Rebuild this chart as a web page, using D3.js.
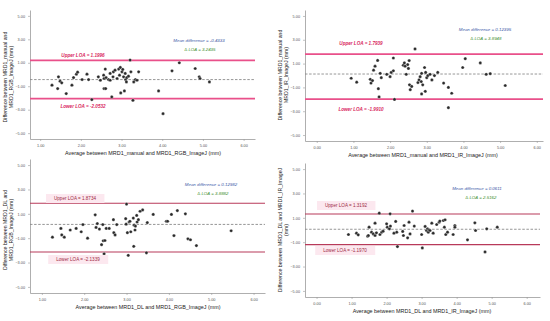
<!DOCTYPE html>
<html>
<head>
<meta charset="utf-8">
<script src="https://cdn.jsdelivr.net/npm/d3@7"></script>
<style>
body{margin:0;background:#fff}
text{font-family:"Liberation Sans",Arial,sans-serif}
</style>
</head>
<body>
<svg width="550" height="321"></svg>
<script>
// panel 1: manual vs RGB
var p1Avg=[1.29,1.43,1.45,1.49,1.53,1.64,1.78,1.82,1.89,1.92,2.03,2.15,2.19,2.27,2.43,2.48,2.56,2.57,2.60,2.62,2.57,2.61,2.68,2.72,2.72,2.76,2.79,2.80,2.84,2.89,2.93,2.95,2.97,2.98,3.01,3.03,3.05,3.07,3.09,3.10,3.12,3.13,3.17,3.21,3.23,3.28,3.30,3.34,3.38,3.42,3.91,4.02,4.24,4.42,4.81,4.91,4.93,5.16];
var p1Diff=[-0.91,-1.20,-0.20,-0.57,-0.71,-1.63,-0.91,-0.26,0.03,0.20,-0.43,0.03,-0.43,-2.14,-0.20,-0.49,-0.06,-0.34,0.46,-0.26,-1.20,-1.20,-0.43,0.09,-0.49,-1.91,-0.20,0.23,0.37,-0.34,0.46,-0.06,0.60,-1.57,0.23,0.43,-0.20,-1.40,0.09,-0.43,-0.63,-0.26,-0.14,1.23,0.23,-2.20,-0.63,-0.43,-0.49,0.23,-1.40,-3.34,0.31,1.00,0.51,-0.20,-0.34,-0.63];
// panel 2: manual vs IR
var p2Avg=[0.94,1.09,1.46,1.48,1.52,1.55,1.59,1.66,1.68,1.70,1.73,1.76,1.91,2.00,2.03,2.09,2.09,2.12,2.36,2.39,2.41,2.44,2.48,2.50,2.52,2.53,2.55,2.59,2.68,2.76,2.79,2.82,2.85,2.86,2.86,2.89,2.94,2.96,2.97,3.00,3.03,3.09,3.14,3.21,3.30,3.46,3.59,3.59,3.68,3.98,4.05,4.46,4.62,4.73,5.14];
var p2Diff=[-0.23,-0.56,-0.32,-0.64,-0.43,0.45,0.78,1.27,-1.11,-1.80,0.18,-0.18,0.10,-0.10,0.26,1.47,0.40,-2.01,0.86,1.06,0.78,0.10,0.92,0.59,1.25,-0.78,-1.19,-0.92,2.23,-0.59,-0.37,-0.10,-0.51,-1.55,0.18,-0.78,0.67,-1.33,0.26,-0.18,-0.01,0.10,-0.37,-0.01,0.26,-0.64,-1.00,-2.70,-1.49,0.67,1.41,1.06,0.10,0.15,-0.84];
// panel 3: DL vs RGB
var p3Avg=[1.25,1.45,1.47,1.53,1.67,1.81,1.93,1.97,2.08,2.26,2.28,2.31,2.36,2.41,2.44,2.45,2.47,2.49,2.52,2.59,2.69,2.70,2.73,2.77,2.98,2.99,3.00,3.02,3.04,3.06,3.08,3.10,3.16,3.17,3.18,3.20,3.21,3.24,3.25,3.28,3.32,3.38,3.47,3.49,3.63,3.94,3.97,4.06,4.12,4.20,4.39,4.45,4.51,4.65,5.47];
var p3Diff=[-0.92,-0.20,-0.73,-0.92,-0.33,-0.20,-0.47,0.12,-1.00,0.92,-0.12,0.20,-0.25,-1.53,0.12,-1.21,-2.28,-1.19,-0.20,-0.20,0.52,-0.55,-0.73,0.12,0.60,0.15,1.80,-0.55,-2.41,0.33,0.39,-0.47,0.65,-1.67,0.07,-0.33,-0.01,0.87,0.33,0.52,1.21,1.32,-2.20,0.28,0.95,0.39,0.39,0.95,-0.79,1.27,1.00,-1.05,-1.13,-1.61,-0.39];
// panel 4: DL vs IR
var p4Avg=[0.91,1.14,1.19,1.46,1.48,1.50,1.57,1.62,1.67,1.67,1.71,1.79,1.81,1.86,1.90,2.00,2.02,2.08,2.10,2.11,2.21,2.26,2.29,2.31,2.46,2.48,2.50,2.60,2.64,2.67,2.74,2.79,3.00,3.02,3.10,3.14,3.17,3.19,3.21,3.24,3.29,3.33,3.43,3.50,3.52,3.62,3.65,3.67,3.69,3.74,3.90,3.95,3.95,4.31,4.52,4.54,4.81,4.86,5.16];
var p4Diff=[-0.37,-0.26,-0.40,-0.51,-0.45,0.23,-0.18,-0.32,0.56,-0.45,-0.23,1.38,-0.37,-0.18,-0.10,0.51,0.23,0.10,1.33,0.32,-0.26,0.70,-0.18,-1.36,-0.12,-0.45,0.37,-0.64,0.64,-0.32,1.55,0.32,-0.37,-1.47,0.29,-0.04,0.10,-0.18,0.01,-0.04,0.56,-0.26,0.45,0.64,0.73,0.78,0.23,0.84,-0.37,-0.18,-0.37,0.37,0.23,-0.81,0.59,-0.04,-1.80,0.10,0.23];

var meanDiff=[-0.4333,0.12395,0.12982,0.0611];
var upperLOA=[1.1996,1.7939,1.8734,1.3192];
var lowerLOA=[-2.0532,-1.9910,-2.1339,-1.1970];
var meanText=["-0.4333","0.12395","0.12982","0.0611"];
var deltaText=["3.2435","3.8948","3.8882","2.5162"];
var upperText=["1.1996","1.7939","1.8734","1.3192"];
var lowerText=["-2.0532","-1.9910","-2.1339","-1.1970"];

var xTicks=[[1,2,3,4,5,6],[0,1,2,3,4,5,6],[1,2,3,4,5,6],[0,1,2,3,4,5,6]];
var yTicks=[5,3,1,-1,-3,-5];
var xTitles=["Average between MRD1_manual and MRD1_RGB_ImageJ (mm)",
  "Average between MRD1_manual and MRD1_IR_ImageJ (mm)",
  "Average between MRD1_DL and MRD1_RGB_ImageJ (mm)",
  "Average between MRD1_DL and MRD1_IR_ImageJ (mm)"];
var yTitles=[["Difference between MRD1_manual and","MRD1_RGB_ImageJ (mm)"],
  ["Difference between MRD1_manual and","MRD1_IR_ImageJ (mm)"],
  ["Difference between MRD1_DL and","MRD1_RGB_ImageJ (mm)"],
  ["Difference between MRD1_DL and MRD1_IR_ImageJ","(mm)"]];

var avgs=[p1Avg,p2Avg,p3Avg,p4Avg], diffs=[p1Diff,p2Diff,p3Diff,p4Diff];

// layout of each panel (pixels)
var panels=[
  {l:30,r:255,t:10,b:139,xd:[0.75,6.28],style:1,up:[83,57],lo:[83,107.5],mn:[199,41.5],dl:[200,50.5],xt:[143,154.5],yt:[77,7]},
  {l:305,r:543,t:10,b:141,xd:[-0.32,6.17],style:1,up:[361,44.5],lo:[361,110.5],mn:[485,31],dl:[486,39.5],xt:[423,156.5],yt:[75,282]},
  {l:30,r:265,t:159,b:293,xd:[0.72,6.27],style:2,up:[75,200],lo:[78,261],mn:[211,185.5],dl:[213,194.5],xt:[148,308.5],yt:[230,7]},
  {l:305,r:540,t:163,b:297,xd:[-0.33,6.38],style:2,up:[346,207],lo:[345,252],mn:[477,189.5],dl:[481,198.5],xt:[422,312.5],yt:[230,282]}
];

var svg=d3.select("svg");

panels.forEach(function(p,i){
  var x=d3.scaleLinear().domain(p.xd).range([p.l,p.r]);
  var y=d3.scaleLinear().domain([-5.5,5.5]).range([p.b,p.t]);
  var g=svg.append("g");

  var xa=g.append("g").attr("transform","translate(0,"+p.b+")")
    .call(d3.axisBottom(x).tickValues(xTicks[i]).tickFormat(d3.format(".2f")).tickSize(2).tickSizeOuter(0));
  var ya=g.append("g").attr("transform","translate("+p.l+",0)")
    .call(d3.axisLeft(y).tickValues(yTicks).tickFormat(d3.format(".2f")).tickSize(2).tickSizeOuter(0));
  [xa,ya].forEach(function(a){
    a.select(".domain").attr("stroke","#9a9a9a").attr("stroke-width",0.8);
    a.selectAll(".tick line").attr("stroke","#9a9a9a").attr("stroke-width",0.6);
    a.selectAll(".tick text").attr("font-size",3.8).attr("fill","#555");
  });
  xa.selectAll(".tick text").attr("dy","0.9em");

  // mean line
  g.append("line").attr("x1",p.l).attr("x2",p.r)
    .attr("y1",y(meanDiff[i])).attr("y2",y(meanDiff[i]))
    .attr("stroke","#8a8a8a").attr("stroke-width",0.9).attr("stroke-dasharray","2.5,1.6");

  // LOA lines
  var loaCol=p.style==1?"#e9508a":"#b83a5a";
  var loaW=p.style==1?1.8:1.1;
  [upperLOA[i],lowerLOA[i]].forEach(function(v){
    g.append("line").attr("x1",p.l).attr("x2",p.r).attr("y1",y(v)).attr("y2",y(v))
      .attr("stroke",loaCol).attr("stroke-width",loaW);
  });

  // points
  g.selectAll("circle").data(avgs[i]).enter().append("circle")
    .attr("cx",function(d){return x(d);})
    .attr("cy",function(d,k){return y(diffs[i][k]);})
    .attr("r",1.6).attr("fill","#2a2a2a").attr("stroke","#fff").attr("stroke-width",0.3);

  // LOA labels
  var labs=[[p.up,"Upper LOA = "+upperText[i]],[p.lo,"Lower LOA = "+lowerText[i]]];
  labs.forEach(function(L){
    var t=g.append("text").attr("x",L[0][0]).attr("y",L[0][1]).attr("text-anchor","middle")
      .attr("font-size",4.6).text(L[1]);
    if(p.style==1){
      t.attr("fill","#d81f5e").attr("font-weight","bold").attr("font-style","italic");
    }else{
      t.attr("fill","#9c2a44");
      var bb=t.node().getBBox();
      g.insert("rect",function(){return t.node();})
        .attr("x",bb.x-8).attr("y",bb.y-2).attr("width",bb.width+16).attr("height",bb.height+4)
        .attr("fill","#fce8ef");
    }
  });

  g.append("text").attr("x",p.mn[0]).attr("y",p.mn[1]).attr("text-anchor","middle")
    .attr("font-size",4.4).attr("font-style","italic").attr("fill","#3d5aa8")
    .text("Mean difference = "+meanText[i]);
  g.append("text").attr("x",p.dl[0]).attr("y",p.dl[1]).attr("text-anchor","middle")
    .attr("font-size",4.4).attr("font-style","italic").attr("fill","#3f8f2f")
    .text("\u2206 LOA = "+deltaText[i]);

  // axis titles
  g.append("text").attr("x",p.xt[0]).attr("y",p.xt[1]).attr("text-anchor","middle")
    .attr("font-size",5.4).attr("fill","#222").text(xTitles[i]);
  var yt=g.append("text").attr("transform","translate("+p.yt[1]+","+p.yt[0]+") rotate(-90)")
    .attr("text-anchor","middle").attr("font-size",5.2).attr("fill","#222");
  yTitles[i].forEach(function(s,k){
    yt.append("tspan").attr("x",0).attr("y",k*6).text(s);
  });
});
</script>
</body>
</html>
